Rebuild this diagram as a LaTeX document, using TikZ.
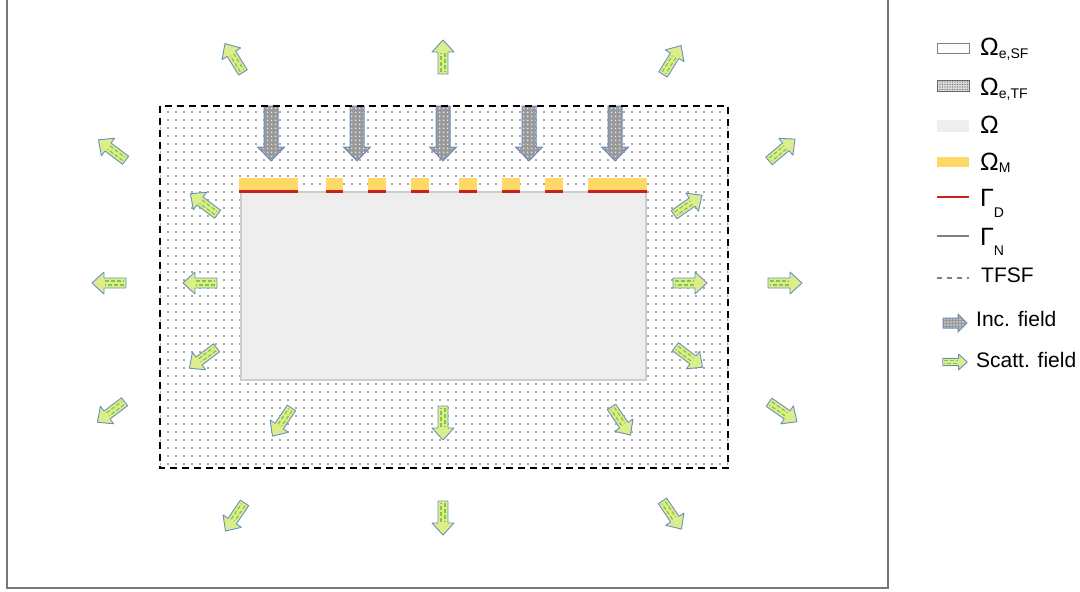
\documentclass[tikz,border=0pt]{standalone}
\usepackage{fontspec}
\setmainfont{Liberation Sans}
\usetikzlibrary{patterns.meta}
\definecolor{omegagray}{RGB}{238,238,238}
\definecolor{metalyellow}{RGB}{255,217,102}
\definecolor{dirred}{RGB}{201,33,30}
\definecolor{arrowblue}{RGB}{108,142,191}
\definecolor{scattfill}{RGB}{220,238,140}
\definecolor{scattgreen}{RGB}{130,200,70}
\definecolor{framegray}{RGB}{120,120,120}

\newcommand\lgfont{\fontsize{21}{25}\selectfont}
\newcommand\lggreek{\fontsize{25}{28}\selectfont}
\newcommand\lgsub{\fontsize{14}{16}\selectfont}

% green block arrow: centre x, centre y, angle
\newcommand\scattarrow[4][1]{%
  \begin{scope}[shift={(#2,#3)}, rotate=#4, scale=#1]
    \filldraw[scattbody] (-17,-5) -- (5,-5) -- (5,-11) -- (17,0) -- (5,11) -- (5,5) -- (-17,5) -- cycle;
    \draw[scattdash] (-15,-2) -- (4,-2);
    \draw[scattdash, dash phase=3pt] (-15,2) -- (4,2);
  \end{scope}}

\begin{document}
\begin{tikzpicture}[x=1pt, y=-1pt,
  scattbody/.style={fill=scattfill, draw=arrowblue, line width=0.9pt, line join=round},
  scattdash/.style={scattgreen, line width=1.2pt, dash pattern=on 4pt off 2pt},
  incbody/.style={draw=arrowblue, line width=1pt, preaction={fill=gray!80},
    pattern={Dots[distance=4pt, radius=1.1pt]}, pattern color=gray!25},
  tfzone/.style={pattern={Dots[distance=8pt, radius=0.8pt]}, pattern color=gray!60!black},
  tfsf/.style={black, line width=2.2pt, dash pattern=on 7pt off 5pt},
  strip/.style={fill=metalyellow, draw=none},
  dirline/.style={dirred, line width=2.5pt}]
\useasboundingbox (0,0) rectangle (1080,592);

% outer (scattered field) box
\draw[framegray, line width=2pt] (7,-5) -- (7,588) -- (888,588) -- (888,-5);

% total field zone
\fill[tfzone] (160,106) rectangle (728,468);

% domain Omega
\draw[omegagray!70!gray, line width=2pt, fill=omegagray] (241,192) rectangle (646,380);

% metal strips with Dirichlet edge
\foreach \xa/\xb in {239/298, 326/343, 368/386, 411/429, 459/477, 502/520, 545/563, 588/647}{
  \fill[strip] (\xa,178) rectangle (\xb,190);
  \draw[dirline] (\xa,191.5) -- (\xb,191.5);
}

% incident field arrows
\foreach \x in {271, 357, 443, 529, 615}
  \draw[incbody] (\x-7,106) -- (\x+7,106) -- (\x+7,147) -- (\x+13.5,147)
    -- (\x,161) -- (\x-13.5,147) -- (\x-7,147) -- cycle;

% TFSF boundary
\draw[tfsf] (160,106) rectangle (728,468);

% scattered field arrows
\foreach \cx/\cy/\ang in {234/58/122, 443/57/90, 672/60/58, 112/150/143, 204/204/143,
    109/283/180, 200/283/180, 203/358/217, 111/412/217, 282/422/236, 443/423/270,
    621/421/304, 688/205/35, 690/283/0, 689/357/323, 782/150/40, 785/283/0,
    783/412/325, 235/517/236, 443/518/270, 672/515/304}
  \scattarrow{\cx}{\cy}{\ang};

% legend
\draw[gray, line width=1pt, fill=white] (937,43) rectangle (969,53);
\node[anchor=base west, font=\lggreek, inner sep=0pt] (lgsf) at (980,55)
  {Ω\raisebox{-3pt}{\lgsub e,SF}};
\draw[gray!80!black, line width=1pt, preaction={fill=gray!30},
  pattern={Dots[distance=2.5pt, radius=0.6pt]}, pattern color=gray!80!black]
  (937,80) rectangle (969,91);
\node[anchor=base west, font=\lggreek, inner sep=0pt] (lgtf) at (980,95)
  {Ω\raisebox{-3pt}{\lgsub e,TF}};
\fill[omegagray] (937,120) rectangle (969,132);
\node[anchor=base west, font=\lggreek, inner sep=0pt] (lgom) at (980,133) {Ω};
\fill[strip] (937,157) rectangle (969,167);
\node[anchor=base west, font=\lggreek, inner sep=0pt] (lgm) at (980,170)
  {Ω\raisebox{-2pt}{\lgsub M}};
\draw[dirred, line width=2.5pt] (937,197) -- (969,197);
\node[anchor=base west, font=\lggreek, inner sep=0pt] (lgd) at (980,206)
  {Γ\raisebox{-11pt}{\lgsub D}};
\draw[gray, line width=2pt] (937,236) -- (969,236);
\node[anchor=base west, font=\lggreek, inner sep=0pt] (lgn) at (980,245)
  {Γ\raisebox{-10pt}{\lgsub N}};
\draw[gray, line width=2pt, dash pattern=on 5pt off 5pt] (937,278) -- (969,278);
\node[anchor=base west, font=\lgfont, inner sep=0pt] (lgtfsf) at (981,282) {TFSF};
\draw[incbody, pattern={Dots[distance=3pt, radius=0.9pt]}] (943,318) -- (958,318) -- (958,314)
  -- (967,323) -- (958,332) -- (958,328) -- (943,328) -- cycle;
\node[anchor=base west, font=\lgfont, inner sep=0pt] (lginc) at (976,326) {Inc. field};
\scattarrow[0.72]{955}{362}{0}
\node[anchor=base west, font=\lgfont, inner sep=0pt] (lgsc) at (976,367) {Scatt. field};
\end{tikzpicture}
\end{document}
